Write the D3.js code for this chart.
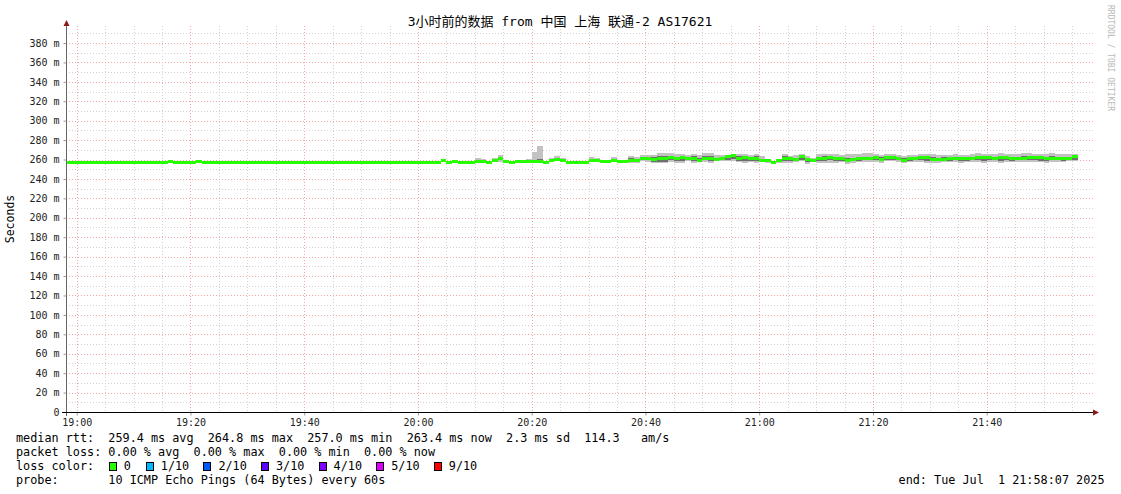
<!DOCTYPE html>
<html><head><meta charset="utf-8">
<script src="https://cdn.jsdelivr.net/npm/d3@7"></script>
<style>
html,body{margin:0;padding:0;background:#fff;}
svg{display:block;}
text{font-family:"DejaVu Sans Mono",monospace;}
</style></head><body>
<svg id="chart" width="1121" height="494"></svg>
<script>
// ---------------- DATA ----------------
const title = "3小时前的数据 from 中国 上海 联通-2 AS17621";
const yAxisTitle = "Seconds";
const watermark = "RRDTOOL / TOBI OETIKER";
const startTime = "2025-07-01 18:58:07";
const endTime = "2025-07-01 21:58:07";
const firstSample = "2025-07-01 18:58:00";   // one sample per minute
const yTicks = [0,20,40,60,80,100,120,140,160,180,200,220,240,260,280,300,320,340,360,380];
const yTickLabels = ["0","20 m","40 m","60 m","80 m","100 m","120 m","140 m","160 m","180 m","200 m","220 m","240 m","260 m","280 m","300 m","320 m","340 m","360 m","380 m"];
const xTickLabels = ["19:00","19:20","19:40","20:00","20:20","20:40","21:00","21:20","21:40"];

// median rtt (ms), one value per minute, 18:58 .. 21:55
const median = [
257,257,257,257,257,257,257,257,257,257,257,257,257,257,257,257,257,257,257.8,257,
257,257,257,257.8,257,257,257,257,257,257,257,257,257,257,257,257,257,257,257,257,
257,257,257,257,257,257,257,257,257,257,257.2,257,257,257,257,257,257.2,257,257,257.2,
257,257,257,257,
257.0,257.3,258.5,257.2,258.0,257.2,257.2,257.2,257.5,257.5,
257.0,259.0,261.0,258.0,257.0,257.5,257.5,257.5,258.0,258.0,
257.0,258.5,260.0,259.5,256.8,257.2,257.2,257.2,258.5,258.5,
258.2,258.0,258.5,258.0,257.5,259.0,259.5,261.0,261.0,260.5,
261.5,261.5,262.5,261.0,262.0,261.0,261.5,259.5,261.0,261.5,
260.5,261.0,263.0,264.0,261.5,262.0,261.0,261.5,259.5,259.0,
257.0,258.5,261.0,261.0,260.5,263.5,260.0,259.5,261.0,261.5,
262.0,261.0,261.0,258.5,260.0,261.0,261.0,261.0,262.0,260.5,
262.0,262.5,261.5,259.5,261.0,261.5,262.0,262.0,260.5,260.0,
260.5,261.0,261.5,261.5,261.0,261.5,262.5,262.0,262.0,261.5,
262.0,262.0,261.0,261.5,261.5,262.0,262.0,261.8,261.5,261.5,
261.5,261.0,261.5,263.0];

// smoke (spread of the 10 pings) starting at minute index smokeStart
const smokeStart = 48;
const smokeLo = [
257,257,257,257,257,257,257,257,257,257,257,257,257,257,257,257,
256.8,257.0,257.5,256.8,257.5,256.8,256.8,256.8,257.0,257.0,
256.8,257.0,257.5,257.0,256.5,257.0,257.0,257.0,257.0,257.0,
256.5,257.5,258.0,258.5,256.5,256.8,256.8,256.0,257.5,257.5,
257.5,257.0,257.5,257.0,256.0,256.5,256.0,258.0,257.5,256.0,
256.0,256.0,257.0,256.5,256.5,258.0,256.5,257.0,257.5,256.5,
258.0,258.0,258.0,258.5,257.0,256.5,257.5,256.5,257.5,256.8,
256.0,256.5,256.5,256.5,257.0,258.5,255.5,257.0,256.5,256.5,
256.5,256.5,257.0,255.5,256.5,257.5,257.5,257.5,257.5,256.5,
258.0,258.0,257.0,256.0,257.5,257.5,257.0,256.5,256.5,256.5,
257.5,257.0,257.0,256.5,257.5,257.0,257.0,256.5,257.0,257.5,
256.5,257.0,257.0,257.5,257.0,257.5,257.0,257.0,256.5,257.0,
257.5,257.0,258.0,258.0];
const smokeHi = [
257,257,258,257,257,257,257,257,258,257,257,258,257,257,257,257,
257.5,257.5,259.0,257.5,260.0,257.5,257.5,257.5,262.0,261.0,
257.5,262.0,264.5,260.0,257.5,260.0,260.0,261.0,268.0,273.5,
258.0,261.5,264.0,262.0,257.5,258.5,258.5,257.5,263.0,262.0,
260.0,259.0,263.0,260.0,258.0,264.0,263.0,264.5,265.0,265.0,
266.5,266.5,266.5,265.5,266.0,265.0,266.0,265.0,266.5,266.5,
264.5,265.0,265.0,265.5,266.0,266.0,265.0,266.0,263.5,261.0,
258.0,260.0,266.0,264.0,265.0,265.5,263.5,261.5,265.5,265.5,
265.5,266.0,265.0,266.0,266.0,265.5,266.5,266.5,265.5,264.5,
266.0,266.0,264.5,264.0,265.0,265.0,266.0,266.0,265.5,264.5,
265.0,265.0,265.5,265.0,265.0,265.5,266.5,265.5,266.0,265.5,
266.5,266.0,265.5,266.0,266.5,266.5,266.0,266.0,265.5,266.5,
265.5,266.0,265.5,266.0];
const innerLo = [
257,257,257,257,257,257,257,257,257,257,257,257,257,257,257,257,
257.0,257.3,258.5,257.2,258.0,257.2,257.2,257.2,257.5,257.5,
257.0,258.0,259.0,257.5,256.8,257.5,257.5,257.5,257.5,257.5,
257.0,258.0,259.0,259.0,256.8,257.2,257.2,256.5,258.0,258.0,
258.0,257.5,258.0,257.5,256.5,257.0,257.0,259.0,259.0,257.5,
257.5,257.5,259.0,258.0,258.5,259.0,258.0,258.0,259.0,258.5,
259.0,259.0,260.0,261.0,258.5,258.5,258.5,258.0,258.0,257.5,
256.5,257.5,258.0,258.5,258.5,260.0,257.0,258.0,258.5,258.5,
259.0,258.5,258.5,257.0,258.0,258.5,259.0,259.0,259.0,258.0,
259.5,259.5,259.0,257.5,258.5,259.0,259.0,258.5,258.0,258.0,
258.5,258.5,259.0,258.5,258.5,259.0,259.0,258.5,259.0,259.0,
258.5,259.0,258.5,259.0,259.0,259.0,259.0,258.5,258.5,259.0,
259.0,258.5,259.0,259.5];
const innerHi = [
257,257,257,257,257,257,257,257,257,257,257,257,257,257,257,257,
257.0,257.3,258.5,257.2,258.5,257.2,257.2,257.2,258.0,257.5,
257.0,260.5,262.0,259.0,257.0,258.0,258.0,258.0,259.5,261.0,
257.0,259.5,261.0,260.0,256.8,257.2,257.2,257.2,260.5,259.5,
259.0,258.0,260.0,258.5,257.5,262.0,261.0,262.5,262.5,262.5,
264.0,264.0,264.0,263.0,263.5,262.5,263.5,262.0,263.5,263.5,
262.0,262.5,263.5,264.5,263.5,263.5,262.5,263.5,261.0,259.5,
257.5,259.0,264.0,262.5,262.0,264.0,262.0,260.0,263.0,263.5,
263.5,263.0,262.5,262.0,262.0,262.5,263.0,263.0,263.5,262.5,
263.5,263.5,262.5,262.0,262.5,263.0,263.5,264.0,263.0,262.0,
262.5,262.5,263.0,263.0,262.5,263.0,264.0,263.5,263.5,263.0,
263.5,263.5,262.5,263.0,263.5,263.5,263.5,263.5,263.0,263.5,
263.0,263.0,263.0,264.0];

const legendLines = [
  "median rtt:  259.4 ms avg  264.8 ms max  257.0 ms min  263.4 ms now  2.3 ms sd  114.3   am/s",
  "packet loss: 0.00 % avg  0.00 % max  0.00 % min  0.00 % now",
  "loss color:",
  "probe:       10 ICMP Echo Pings (64 Bytes) every 60s"
];
const endLabel = "end: Tue Jul  1 21:58:07 2025";
const lossLabels = ["0","1/10","2/10","3/10","4/10","5/10","9/10"];
const lossColors = ["#26ff00","#00b8ff","#0059ff","#5e00ff","#7e00ff","#dd00ff","#ff0000"];

// ---------------- DRAW ----------------
const parse = d3.timeParse("%Y-%m-%d %H:%M:%S");
const t0 = parse(startTime), t1 = parse(endTime), s0 = parse(firstSample);
const svg = d3.select("#chart");
const L = 66, R = 1093, T = 26, B = 412;
const x = d3.scaleTime().domain([t0, t1]).range([L, 1089.75]);
const y = d3.scaleLinear().domain([0, 397.5]).range([B, T]);

svg.append("rect").attr("width",1121).attr("height",494).attr("fill","#fff");

const minorCol = "#d2d2d2", majorCol = "#f4a6a6", dash = "1,2";
// grid
const g = svg.append("g");
const minorY = d3.range(10, 391, 10).filter(v => v % 20 !== 0);
g.selectAll(".hmin").data(minorY).join("line")
  .attr("x1", L).attr("x2", R).attr("y1", d => Math.round(y(d))+0.5).attr("y2", d => Math.round(y(d))+0.5)
  .attr("stroke",minorCol).attr("stroke-dasharray",dash);
const minorX = x.ticks(d3.timeMinute.every(5)).filter(d => d.getMinutes() % 20 !== 0);
g.selectAll(".vmin").data(minorX).join("line")
  .attr("x1", d => Math.round(x(d))+0.5).attr("x2", d => Math.round(x(d))+0.5).attr("y1", T).attr("y2", B)
  .attr("stroke",minorCol).attr("stroke-dasharray",dash);
g.selectAll(".hmaj").data(yTicks.filter(v => v > 0)).join("line")
  .attr("x1", L).attr("x2", R).attr("y1", d => Math.round(y(d))+0.5).attr("y2", d => Math.round(y(d))+0.5)
  .attr("stroke",majorCol).attr("stroke-dasharray",dash);
const majorX = x.ticks(d3.timeMinute.every(20));
g.selectAll(".vmaj").data(majorX).join("line")
  .attr("x1", d => Math.round(x(d))+0.5).attr("x2", d => Math.round(x(d))+0.5).attr("y1", T).attr("y2", B)
  .attr("stroke",majorCol).attr("stroke-dasharray",dash);

// data
svg.append("clipPath").attr("id","clip").append("rect").attr("x",L).attr("y",T).attr("width",R-L).attr("height",B-T);
const dg = svg.append("g").attr("clip-path","url(#clip)");
const minute = i => d3.timeMinute.offset(s0, i);
const smokeIdx = d3.range(smokeLo.length);
dg.selectAll(".outer").data(smokeIdx).join("rect")
  .attr("x", i => x(minute(i+smokeStart))).attr("width", i => x(minute(i+smokeStart+1)) - x(minute(i+smokeStart)))
  .attr("y", i => y(smokeHi[i])).attr("height", i => y(smokeLo[i]) - y(smokeHi[i]))
  .attr("fill","#c2c2c2").attr("shape-rendering","crispEdges");
dg.selectAll(".inner").data(smokeIdx).join("rect")
  .attr("x", i => x(minute(i+smokeStart))).attr("width", i => x(minute(i+smokeStart+1)) - x(minute(i+smokeStart)))
  .attr("y", i => y(innerHi[i])).attr("height", i => y(innerLo[i]) - y(innerHi[i]))
  .attr("fill","#6e6e6e").attr("shape-rendering","crispEdges");
dg.selectAll(".med").data(median).join("rect")
  .attr("x", (d,i) => x(minute(i))).attr("width", (d,i) => x(minute(i+1)) - x(minute(i)))
  .attr("y", d => y(d) - 1.5).attr("height", 3)
  .attr("fill", lossColors[0]).attr("shape-rendering","crispEdges");

// axes
const yAxis = d3.axisLeft(y).tickValues(yTicks).tickSize(3).tickPadding(4)
  .tickFormat((d,i) => yTickLabels[i]);
const ya = svg.append("g").attr("transform",`translate(${L+0.5},0)`).call(yAxis);
ya.select(".domain").remove();
ya.selectAll(".tick line").attr("stroke","#999");
ya.selectAll("text").attr("font-size","10px").attr("fill","#222").attr("font-family","DejaVu Sans Mono");

const xAxis = d3.axisBottom(x).ticks(d3.timeMinute.every(20)).tickSize(3).tickPadding(3)
  .tickFormat((d,i) => xTickLabels[i]);
const xa = svg.append("g").attr("transform",`translate(0,${B+0.5})`).call(xAxis);
xa.select(".domain").remove();
xa.selectAll(".tick line").attr("stroke","#999");
xa.selectAll("text").attr("font-size","10px").attr("fill","#222").attr("font-family","DejaVu Sans Mono");

// axis lines + arrows
svg.append("line").attr("x1",L+0.5).attr("x2",L+0.5).attr("y1",22).attr("y2",B+4).attr("stroke","#666");
svg.append("line").attr("x1",L-4).attr("x2",1094).attr("y1",B+0.5).attr("y2",B+0.5).attr("stroke","#000");
svg.append("path").attr("d",`M${L-2.5},26 L${L+3.5},26 L${L+0.5},20 Z`).attr("fill","#8b1a1a");
svg.append("path").attr("d",`M1093,${B-2.5} L1093,${B+3.5} L1099,${B+0.5} Z`).attr("fill","#8b1a1a");

// title
svg.append("text").attr("x",560).attr("y",26).attr("text-anchor","middle")
  .attr("font-size","13px").attr("fill","#000")
  .style("font-family","'DejaVu Sans Mono','Noto Sans CJK SC',monospace").text(title);

// y axis title
svg.append("text").attr("transform","translate(14,219) rotate(-90)").attr("text-anchor","middle")
  .attr("font-size","11.5px").attr("fill","#000").text(yAxisTitle);

// watermark
svg.append("text").attr("transform","translate(1108,5) rotate(90)")
  .attr("font-size","8px").attr("fill","#b8b8b8").text(watermark);

// legend
const charW = 7.14;
const legendY = [442, 456, 470, 484];
svg.selectAll(".leg").data(legendLines).join("text")
  .attr("x",16).attr("y",(d,i)=>legendY[i]).attr("font-size","11.8px").attr("fill","#000")
  .style("white-space","pre").text(d=>d);
svg.append("text").attr("x",1104.5).attr("y",legendY[3]).attr("text-anchor","end")
  .attr("font-size","11.8px").attr("fill","#000").style("white-space","pre").text(endLabel);
const boxX = i => 16 + charW*13 + (i === 0 ? 0 : 37 + (i-1)*57.6);
const lg = svg.append("g");
lg.selectAll("rect").data(lossColors).join("rect")
  .attr("x",(d,i)=>Math.round(boxX(i))+0.5).attr("y",462.5).attr("width",7).attr("height",8)
  .attr("fill",d=>d).attr("stroke","#000").attr("stroke-width",1);
lg.selectAll("text").data(lossLabels).join("text")
  .attr("x",(d,i)=>boxX(i)+15).attr("y",legendY[2]).attr("font-size","11.8px").attr("fill","#000").text(d=>d);
</script>
</body></html>
